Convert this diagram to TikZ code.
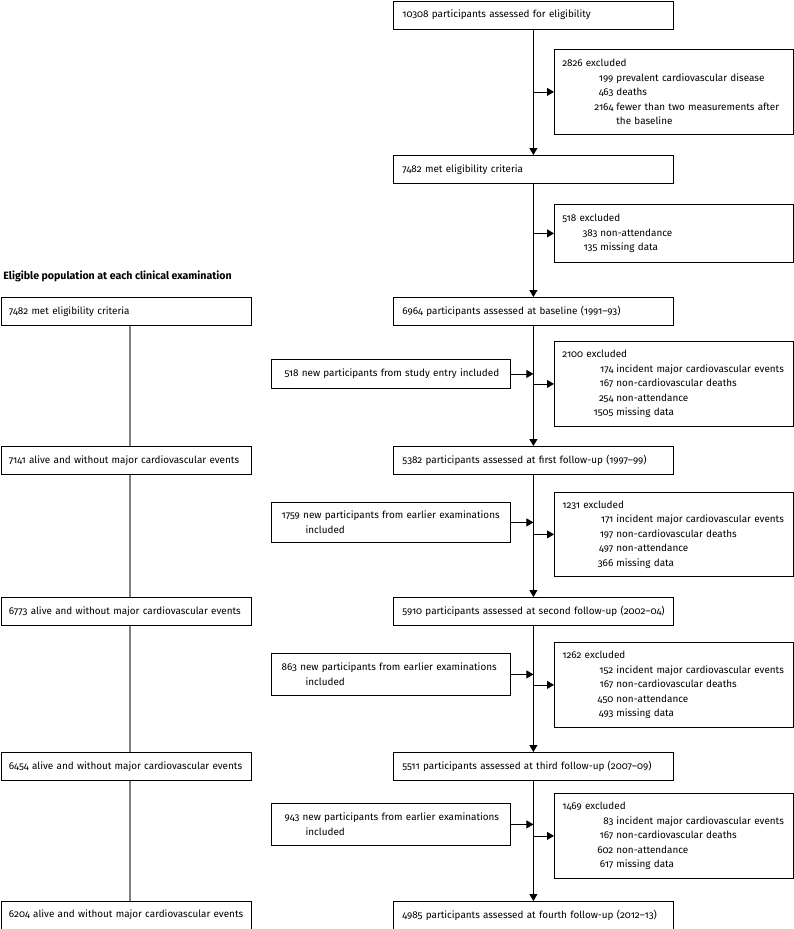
\documentclass[tikz,border=0pt]{standalone}
\usepackage{fontspec}
\setmainfont{Fira Sans}[Numbers=OldStyle]
\usetikzlibrary{arrows.meta}
\newcommand{\exline}[3][29pt]{\mbox{\hspace*{#1}\makebox[22pt][r]{#2}\hspace{3pt}#3}}

\begin{document}
\begin{tikzpicture}[x=1pt,y=-1pt,line width=0.8pt,
  font=\fontsize{9.9}{14.5}\selectfont,
  main box/.style={draw, anchor=north west, minimum width=280pt, minimum height=28pt, text width=266pt, inner xsep=7pt, inner ysep=0pt, align=left},
  left box/.style={draw, anchor=north west, minimum width=250pt, minimum height=28pt, text width=234pt, inner xsep=8pt, inner ysep=0pt, align=left},
  excl box/.style={draw, anchor=north west, minimum width=239pt, text width=223pt, inner xsep=8pt, inner ysep=0pt, align=left},
  new box/.style={draw, anchor=north east, minimum width=239pt, text width=223pt, inner xsep=8pt, inner ysep=0pt, align=left},
  flow/.style={-{Triangle[length=7pt,width=8pt]}},
  track/.style={draw=black!50, line width=1.3pt}]
  \useasboundingbox (0,0) rectangle (794,929);
  \coordinate (lcol) at (130, 0);
  \node[main box] (m1) at (393, 0.5) {\hspace*{2pt}10308 participants assessed for eligibility};
  \node[excl box, minimum height=85pt] (e1) at (554, 49) {2826 excluded\\
    \exline{199}{prevalent cardiovascular disease}\\
    \exline{463}{deaths}\\
    \exline{2164}{fewer than two measurements after}\\
    \exline{}{the baseline}};
  \node[main box] (m2) at (393, 155) {\hspace*{2pt}7482 met eligibility criteria};
  \node[excl box, minimum height=58pt] (e2) at (554, 204) {518 excluded\\
    \exline[13pt]{383}{non-attendance}\\
    \exline[13pt]{135}{missing data}};
  \node[anchor=west, inner sep=0pt, font=\fontsize{10.6}{14.5}\selectfont\bfseries] (head) at (3, 276) {Eligible population at each clinical examination};
  \node[left box] (l1) at (0.5, 297) {7482 met eligibility criteria};
  \node[main box] (m3) at (393, 297) {\hspace*{2pt}6964 participants assessed at baseline (1991--93)};
  \node[new box, minimum height=29pt] (n1) at (511, 359) {\hspace*{5pt}518 new participants from study entry included};
  \node[excl box, minimum height=85pt] (e3) at (554, 341) {2100 excluded\\
    \exline{174}{incident major cardiovascular events}\\
    \exline{167}{non-cardiovascular deaths}\\
    \exline{254}{non-attendance}\\
    \exline{1505}{missing data}};
  \node[left box] (l2) at (0.5, 446) {\mbox{7141 alive and without major cardiovascular events}};
  \node[main box] (m4) at (393, 446) {\hspace*{2pt}5382 participants assessed at first follow-up (1997--99)};
  \node[new box, minimum height=40pt] (n2) at (511, 502) {\hspace*{2pt}1759 new participants from earlier examinations\\
    \hspace*{26pt}included};
  \node[excl box, minimum height=84pt] (e4) at (554, 492) {1231 excluded\\
    \exline{171}{incident major cardiovascular events}\\
    \exline{197}{non-cardiovascular deaths}\\
    \exline{497}{non-attendance}\\
    \exline{366}{missing data}};
  \node[left box] (l3) at (0.5, 597) {\mbox{6773 alive and without major cardiovascular events}};
  \node[main box] (m5) at (393, 597) {\hspace*{2pt}5910 participants assessed at second follow-up (2002--04)};
  \node[new box, minimum height=42pt] (n3) at (511, 653) {\hspace*{2pt}863 new participants from earlier examinations\\
    \hspace*{26pt}included};
  \node[excl box, minimum height=85pt] (e5) at (554, 642) {1262 excluded\\
    \exline{152}{incident major cardiovascular events}\\
    \exline{167}{non-cardiovascular deaths}\\
    \exline{450}{non-attendance}\\
    \exline{493}{missing data}};
  \node[left box] (l4) at (0.5, 752) {\mbox{6454 alive and without major cardiovascular events}};
  \node[main box] (m6) at (393, 752) {\hspace*{2pt}5511 participants assessed at third follow-up (2007--09)};
  \node[new box, minimum height=42pt] (n4) at (511, 803) {\hspace*{5pt}943 new participants from earlier examinations\\
    \hspace*{26pt}included};
  \node[excl box, minimum height=85pt] (e6) at (554, 793) {1469 excluded\\
    \exline{83}{incident major cardiovascular events}\\
    \exline{167}{non-cardiovascular deaths}\\
    \exline{602}{non-attendance}\\
    \exline{617}{missing data}};
  \node[left box, minimum height=27.5pt] (l5) at (0.5, 901) {\mbox{6204 alive and without major cardiovascular events}};
  \node[main box, minimum height=27.5pt] (m7) at (393, 901) {\hspace*{2pt}4985 participants assessed at fourth follow-up (2012--13)};
  \path[flow]
    (m1.south) edge (m2.north)
    (m2.south) edge (m3.north)
    (m3.south) edge (m4.north)
    (m4.south) edge (m5.north)
    (m5.south) edge (m6.north)
    (m6.south) edge (m7.north)
    (e1.west -| m1.south) edge (e1.west)
    (e2.west -| m2.south) edge (e2.west)
    (e3.west -| m3.south) edge (e3.west)
    (e4.west -| m4.south) edge (e4.west)
    (e5.west -| m5.south) edge (e5.west)
    (e6.west -| m6.south) edge (e6.west)
    (n1.east) edge (n1.east -| m3.south)
    (n2.east) edge (n2.east -| m4.south)
    (n3.east) edge (n3.east -| m5.south)
    (n4.east) edge (n4.east -| m6.south);
  \path[track]
    (l1.south -| lcol) edge (l2.north -| lcol)
    (l2.south -| lcol) edge (l3.north -| lcol)
    (l3.south -| lcol) edge (l4.north -| lcol)
    (l4.south -| lcol) edge (l5.north -| lcol);
\end{tikzpicture}
\end{document}
